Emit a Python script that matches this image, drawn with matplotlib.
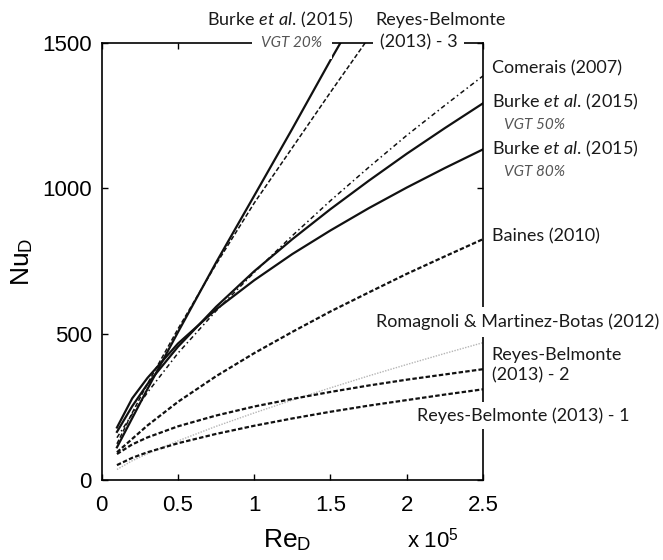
import matplotlib
matplotlib.use('Agg')
import matplotlib.pyplot as plt

plt.rcParams['font.family'] = ['Liberation Sans', 'DejaVu Sans']
plt.rcParams['mathtext.fontset'] = 'custom'
plt.rcParams['mathtext.rm'] = 'Lato'
plt.rcParams['mathtext.it'] = 'Lato:italic'
plt.rcParams['mathtext.sf'] = 'Liberation Sans'

# Reynolds number, in units of 1e5
re = [0.1, 0.2, 0.3, 0.5, 0.75, 1.0, 1.25, 1.5, 1.75, 2.0, 2.25, 2.5]

# Nusselt number for each correlation
burke_20 = [112, 212, 312, 507, 746, 975, 1205, 1440, 1667]
reyes_3 = [124, 230, 330, 518, 740, 950, 1140, 1330, 1516]
comerais = [145, 226, 300, 435, 580, 712, 838, 958, 1072, 1182, 1285, 1386]
burke_50 = [165, 253, 329, 457, 594, 716, 826, 929, 1026, 1119, 1207, 1292]
burke_80 = [180, 280, 350, 468, 585, 685, 775, 856, 932, 1003, 1070, 1134]
baines = [95, 141, 187, 268, 356, 435, 508, 578, 643, 707, 767, 826]
romagnoli = [36, 66, 90, 134, 184, 230, 274, 316, 357, 396, 434, 471]
reyes_2 = [89, 122, 146, 184, 221, 252, 278, 302, 324, 344, 362, 380]
reyes_1 = [51, 76, 95, 126, 158, 186, 211, 234, 255, 274, 293, 311]

x_ticks = [0, 0.5, 1, 1.5, 2, 2.5]
y_ticks = [0, 500, 1000, 1500]

fig = plt.figure(figsize=(6.63, 5.6), dpi=100)
ax = fig.add_axes([0.1534, 0.1429, 0.5751, 0.7809])

ink = '#111111'
ax.plot(re, romagnoli, color='#b5b5b5', lw=1.0, ls=(0, (1, 1)))
ax.plot(re, reyes_1, color=ink, lw=1.6, ls=(0, (2, 1)))
ax.plot(re, reyes_2, color=ink, lw=1.6, ls=(0, (2, 1)))
ax.plot(re, baines, color=ink, lw=1.6, ls=(0, (2, 1)))
ax.plot(re, comerais, color=ink, lw=1.1, ls=(0, (3, 2, 1, 2)))
ax.plot(re, burke_80, color=ink, lw=1.6)
ax.plot(re, burke_50, color=ink, lw=1.6)
ax.plot(re[:len(reyes_3)], reyes_3, color=ink, lw=1.1, ls=(0, (3, 1.5)))
ax.plot(re[:len(burke_20)], burke_20, color=ink, lw=1.6)

ax.set_xlim(0, 2.5)
ax.set_ylim(0, 1500)
ax.set_xticks(x_ticks)
ax.set_xticklabels(['0', '0.5', '1', '1.5', '2', '2.5'])
ax.set_yticks(y_ticks)
ax.tick_params(direction='in', length=4, width=1.0, labelsize=16,
               top=True, right=True)
ax.tick_params(axis='x', pad=11)
ax.tick_params(axis='y', pad=7)
for s in ax.spines.values():
    s.set_linewidth(1.2)

ax.set_xlabel(r'$\mathsf{Re}_{\mathsf{D}}$', fontsize=19)
ax.xaxis.set_label_coords(0.487, -0.108)
ax.set_ylabel(r'$\mathsf{Nu}_{\mathsf{D}}$', fontsize=19, labelpad=5)
ax.text(0.869, -0.14, r'$\mathsf{x\ 10}^{\mathsf{5}}$', transform=ax.transAxes,
        fontsize=16, ha='center', va='center')

lab = dict(fontfamily='Lato', fontsize=13, color='#1a1a1a',
           transform=ax.transAxes, clip_on=False, va='center')
vgt = dict(fontfamily='Lato', fontsize=11, style='italic', color='#555555',
           transform=ax.transAxes, clip_on=False, va='center')
mask = dict(facecolor='white', edgecolor='none')
burke = r'Burke $\mathit{et\ al.}\,$(2015)'

# labels above the top spine
ax.text(0.468, 1.052, burke, ha='center', **lab)
ax.text(0.499, 1.0, 'VGT 20%', ha='center',
        bbox=dict(boxstyle='square,pad=0.6', **mask), **vgt)
ax.text(0.719, 1.052, 'Reyes-Belmonte', ha='left', **lab)
ax.text(0.729, 1.0, '(2013) - 3', ha='left',
        bbox=dict(boxstyle='square,pad=0.35', **mask), **lab)

# labels on the right spine
ax.text(1.023, 0.941, 'Comerais (2007)', ha='left', **lab)
ax.text(1.023, 0.865, burke, ha='left', **lab)
ax.text(1.055, 0.812, 'VGT 50%', ha='left', **vgt)
ax.text(1.023, 0.758, burke, ha='left', **lab)
ax.text(1.055, 0.705, 'VGT 80%', ha='left', **vgt)
ax.text(1.023, 0.557, 'Baines (2010)', ha='left', **lab)
ax.text(1.09, 0.362, 'Romagnoli & Martinez-Botas (2012)', ha='center',
        bbox=dict(boxstyle='square,pad=0.38', **mask), **lab)
ax.text(1.023, 0.286, 'Reyes-Belmonte', ha='left', **lab)
ax.text(1.023, 0.240, '(2013) - 2', ha='left', **lab)
ax.text(1.105, 0.148, 'Reyes-Belmonte (2013) - 1', ha='center',
        bbox=dict(boxstyle='square,pad=0.3', **mask), **lab)

fig.savefig('out.png', dpi=100)
